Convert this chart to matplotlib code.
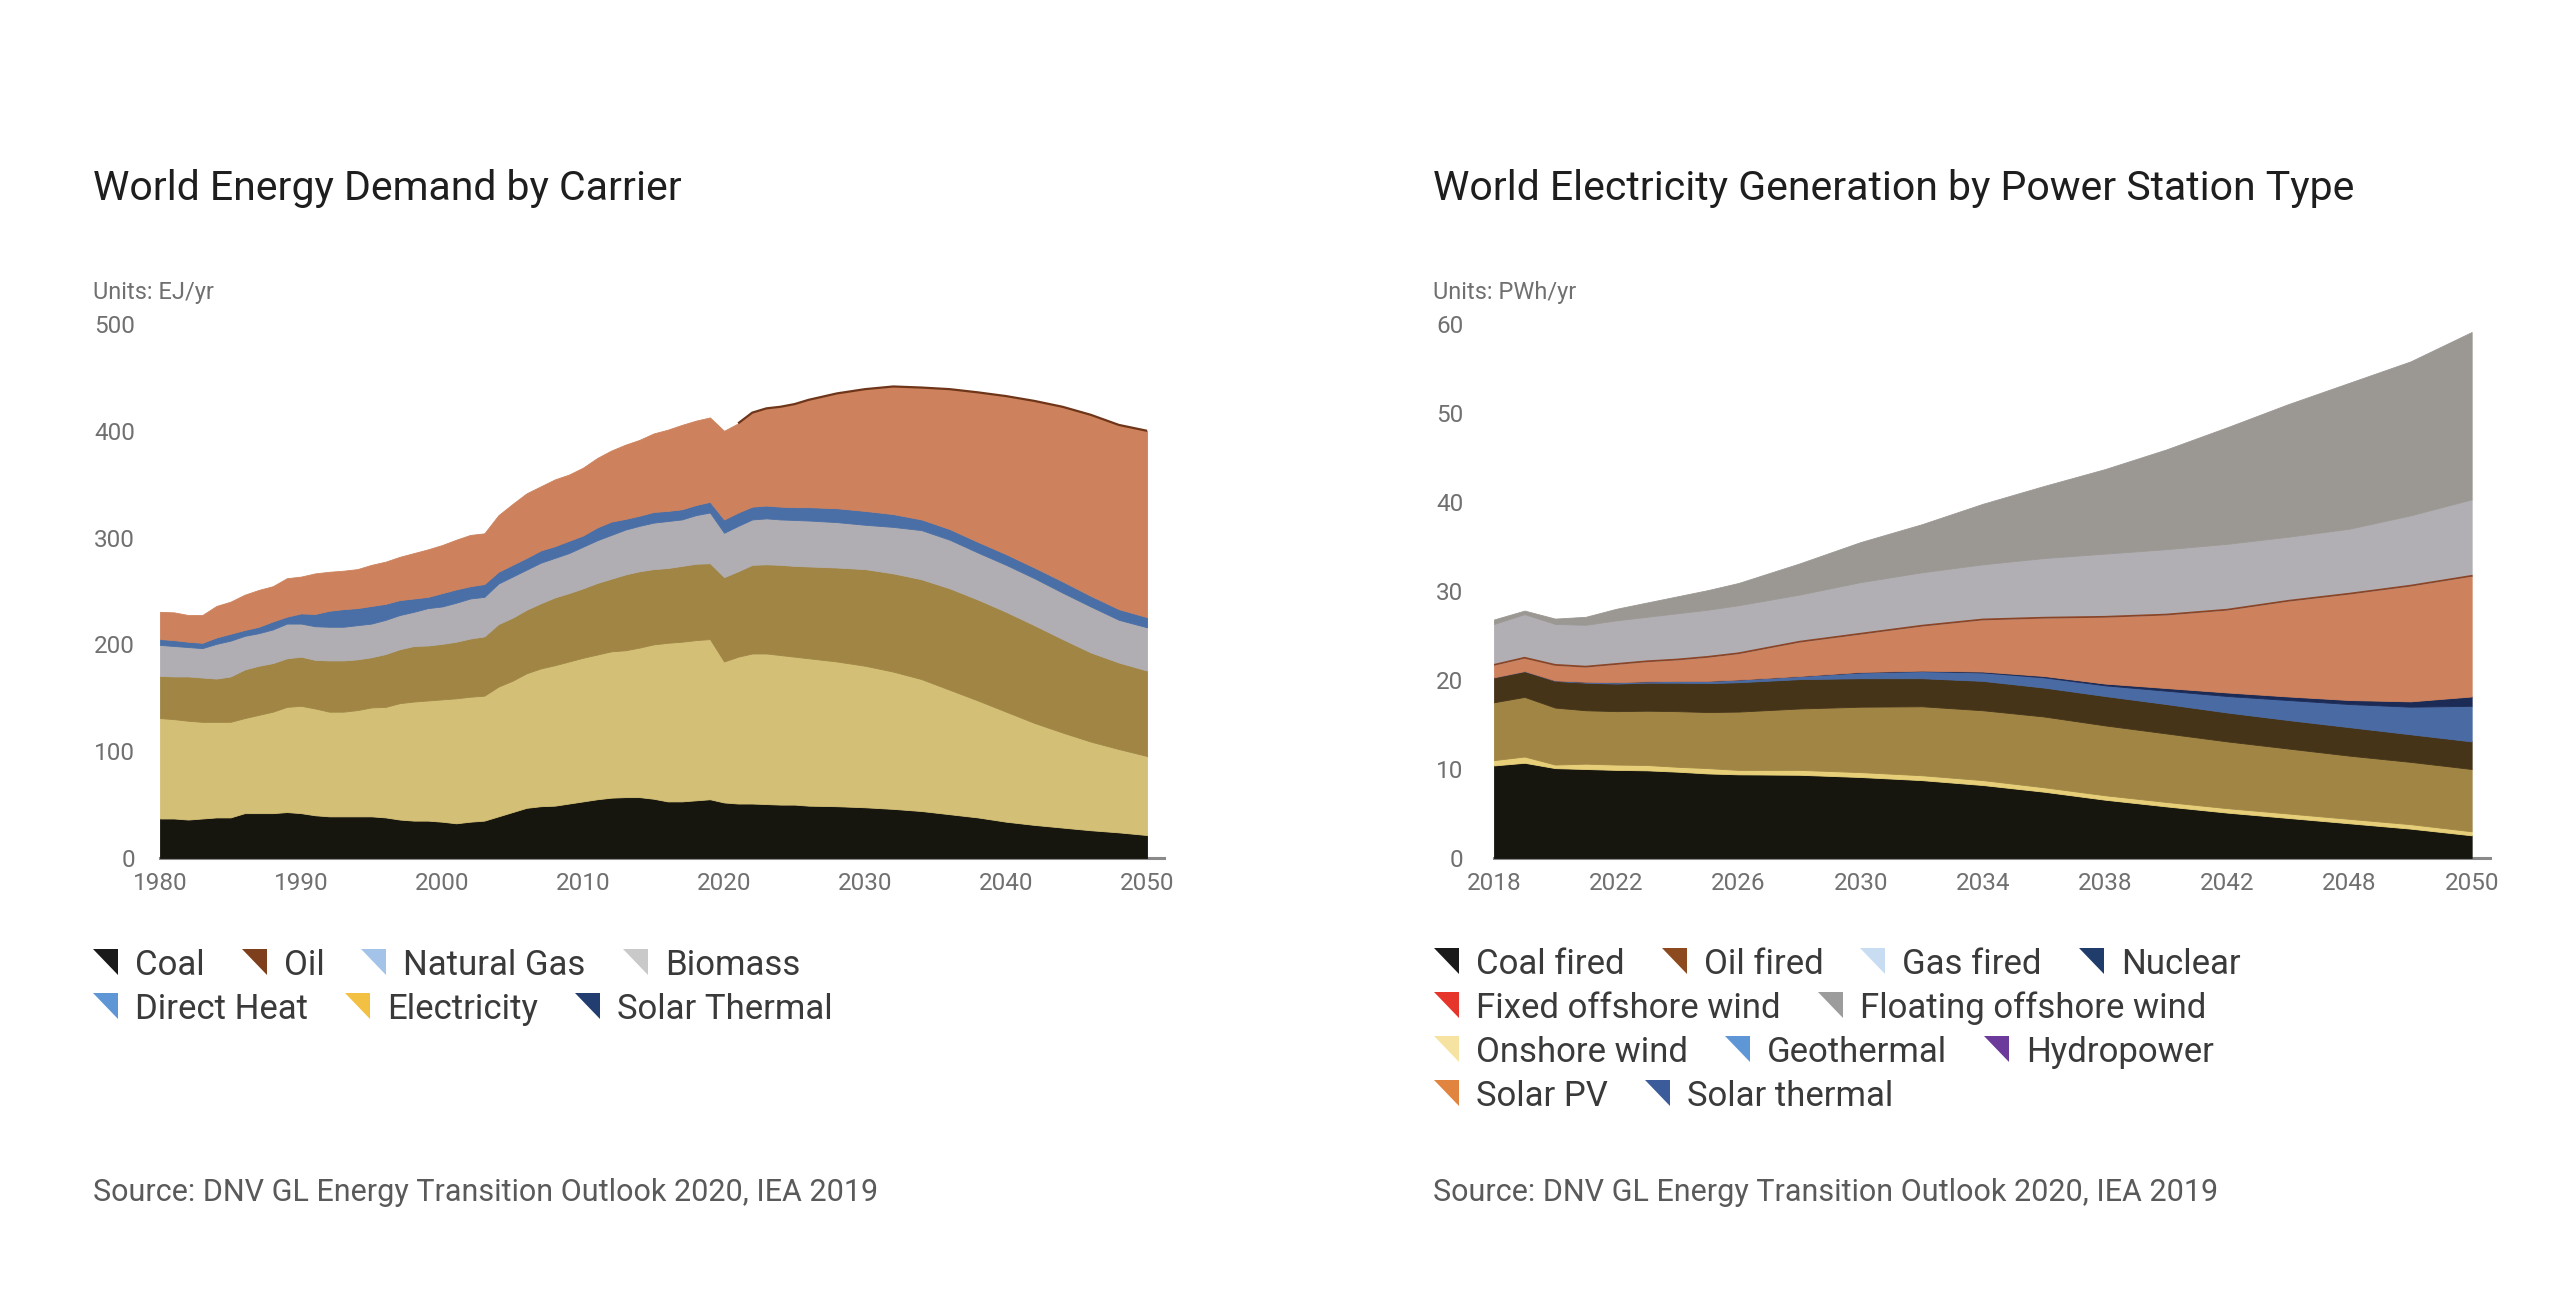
import numpy as np
import matplotlib.pyplot as plt
from matplotlib.patches import Polygon

plt.rcParams['font.family'] = ['Roboto', 'DejaVu Sans']

W, H, DPI = 2560, 1303, 100

# World energy demand by carrier, EJ/yr
# values are the upper edge of each stacked band
demand_years = list(range(1980, 2027)) + list(range(2028, 2051, 2))
coal_edge = [37, 37, 36, 37, 38, 38, 42, 42, 42, 43,
             42, 40, 39, 39, 39, 39, 38, 36, 35, 35,
             34, 32.5, 34, 35, 39, 43, 47, 48.5, 49, 51,
             53, 55, 56.5, 57, 57, 55.5, 53, 53, 54, 55,
             52, 51, 51, 50.5, 50, 50, 49,
             48.5, 47.5, 46, 44, 41, 38, 34, 31, 28.5, 26, 24, 21.5]
oil_edge = [131, 130, 128.5, 127.5, 127.5, 127.5, 131, 134, 137, 141.5,
            142.5, 140, 137, 137, 138.5, 141, 141.5, 145, 146.5, 147.5,
            148.5, 149.5, 151, 152, 160.5, 166, 173, 177.5, 180.5, 184,
            187.5, 190.5, 193.5, 194.5, 197, 200, 201.5, 202.5, 204, 205,
            184, 188.5, 191.5, 191.5, 190, 188.5, 187,
            184, 180, 174.5, 167.5, 157.5, 147.5, 137, 126.5, 117.5, 109, 102, 95.5]
gas_edge = [170.5, 170, 170, 169, 168, 170, 176.5, 180, 182.5, 187,
            188.5, 185.5, 185, 185, 186, 188, 191, 195.5, 198.5, 199,
            200.5, 202.5, 205.5, 207.5, 219, 225, 232.5, 238.5, 244, 248,
            252.5, 257.5, 261.5, 265.5, 268.5, 270.5, 271.5, 273.5, 275.5, 276,
            263, 268.5, 274.5, 275, 274.5, 273.5, 273,
            272, 270.5, 266.5, 261, 252.5, 242, 230.5, 218, 205, 192.5, 183, 175.5]
biomass_edge = [199.5, 198.5, 197.5, 196.5, 200.5, 203.5, 208, 210.5, 214, 219.5,
                219.5, 217, 216.5, 216.5, 218, 219.5, 223, 227.5, 230.5, 234,
                235.5, 239, 243, 244.5, 257, 263.5, 270, 276.5, 281, 285.5,
                291.5, 297.5, 302.5, 307.5, 311, 314, 315.5, 317, 321, 323.5,
                304.5, 311, 317, 318, 317, 316.5, 316,
                314.5, 312, 310, 307, 298, 286, 274.5, 262, 248.5, 235.5, 223, 216]
heat_edge = [205, 204, 202.5, 201.5, 206.5, 210, 213.5, 216.5, 221.5, 226,
             229, 228.5, 231.5, 233, 234, 236, 238, 241.5, 243, 244.5,
             248, 251.5, 254.5, 256.5, 268, 274.5, 281, 288, 292, 297,
             302, 309.5, 315, 317.5, 320.5, 324, 325, 326.5, 330.5, 333.5,
             317, 323.5, 329, 330, 329, 328.5, 328.5,
             327.5, 325, 322, 317, 308, 296, 284.5, 272, 259, 245.5, 233, 225.5]
electricity_edge = [230.5, 230, 227.5, 227.5, 236, 240, 246.5, 251, 254.5, 262,
                    263.5, 266.5, 268, 269, 270.5, 274.5, 277.5, 282, 285.5, 289,
                    293, 298, 302.5, 304, 321, 331.5, 341.5, 348, 354.5, 359,
                    365.5, 374.5, 381.5, 387, 391.5, 397.5, 401, 405.5, 409.5, 412.5,
                    400, 407, 417, 421, 422.5, 425, 429,
                    435, 439, 441.5, 440.5, 439, 436, 432.5, 428, 422.5, 415, 405.5, 400]
demand_colors = ['#16160f', '#d3bf75', '#a08545', '#b0aeb2', '#4a6ea6', '#cd825d']
demand_ticks = [1980, 1990, 2000, 2010, 2020, 2030, 2040, 2050]

# World electricity generation by power station type, PWh/yr (upper edges)
elec_years = [2018, 2019, 2020, 2021, 2022, 2023, 2024, 2025, 2026, 2028, 2030,
              2032, 2034, 2036, 2038, 2040, 2042, 2044, 2046, 2048, 2050]
coal_fired_edge = [10.4, 10.7, 10.1, 10.0, 9.9, 9.85, 9.7, 9.5, 9.4, 9.35, 9.1,
                   8.75, 8.2, 7.45, 6.55, 5.8, 5.1, 4.5, 3.9, 3.3, 2.55]
oil_fired_edge = [11.0, 11.4, 10.5, 10.6, 10.5, 10.45, 10.25, 10.1, 9.9, 9.9, 9.65,
                  9.3, 8.75, 7.95, 7.05, 6.3, 5.6, 5.0, 4.4, 3.8, 3.0]
gas_fired_edge = [17.5, 18.1, 16.9, 16.6, 16.5, 16.55, 16.5, 16.4, 16.45, 16.8, 17.0,
                  17.05, 16.6, 15.9, 14.9, 14.0, 13.1, 12.3, 11.5, 10.8, 10.0]
nuclear_edge = [20.3, 21.0, 19.9, 19.7, 19.6, 19.7, 19.7, 19.65, 19.75, 20.1, 20.2,
                20.2, 19.9, 19.15, 18.2, 17.3, 16.35, 15.5, 14.7, 13.9, 13.1]
fixed_offshore_edge = [20.3, 21.0, 19.95, 19.8, 19.75, 19.85, 19.9, 19.9, 20.05, 20.45, 20.85,
                       21.0, 20.85, 20.3, 19.4, 18.8, 18.2, 17.75, 17.3, 17.0, 17.1]
floating_offshore_edge = [20.3, 21.0, 19.95, 19.8, 19.75, 19.85, 19.9, 19.9, 20.05, 20.45, 20.9,
                          21.05, 20.95, 20.45, 19.6, 19.1, 18.6, 18.15, 17.75, 17.6, 18.15]
solar_pv_edge = [21.7, 22.5, 21.7, 21.5, 21.8, 22.1, 22.3, 22.6, 23.0, 24.3, 25.2,
                 26.1, 26.8, 27.0, 27.1, 27.35, 27.9, 28.9, 29.7, 30.6, 31.7]
hydropower_edge = [26.3, 27.4, 26.3, 26.2, 26.7, 27.1, 27.5, 27.9, 28.4, 29.6, 31.0,
                   32.1, 33.0, 33.7, 34.2, 34.7, 35.3, 36.1, 37.0, 38.5, 40.3]
onshore_wind_edge = [26.8, 27.8, 26.9, 27.1, 28.0, 28.7, 29.4, 30.1, 30.9, 33.1, 35.5,
                     37.5, 39.8, 41.8, 43.7, 45.9, 48.4, 51.0, 53.4, 55.8, 59.1]
elec_colors = ['#16160f', '#e6cf78', '#a08545', '#463418', '#4a6aa4',
               '#1c2b55', '#cd825d', '#b1afb3', '#9b9894']
elec_ticks = [2018, 2022, 2026, 2030, 2034, 2038, 2042, 2046, 2050]
elec_tick_labels = ['2018', '2022', '2026', '2030', '2034', '2038', '2042', '2048', '2050']

demand_legend = ['Coal', 'Oil', 'Natural Gas', 'Biomass', 'Direct Heat', 'Electricity', 'Solar Thermal']
demand_legend_colors = ['#1a1a1a', '#7e3f1c', '#a3c3e8', '#c9c9c9', '#5f97d6', '#f2c143', '#223d6f']
demand_legend_rows = [4, 3]
elec_legend = ['Coal fired', 'Oil fired', 'Gas fired', 'Nuclear', 'Fixed offshore wind',
               'Floating offshore wind', 'Onshore wind', 'Geothermal', 'Hydropower',
               'Solar PV', 'Solar thermal']
elec_legend_colors = ['#1a1a1a', '#8c4a1e', '#c8ddf1', '#1f3c6b', '#e6352b', '#9c9c9c',
                      '#f7e3a1', '#5f97d6', '#6b3a9b', '#e0843f', '#3b5b9b']
elec_legend_rows = [4, 2, 3, 2]

source = 'Source: DNV GL Energy Transition Outlook 2020, IEA 2019'

fig = plt.figure(figsize=(W / DPI, H / DPI), dpi=DPI)


def fx(x):
    return x / W


def fy(y):
    return 1 - y / H


def stacked_panel(left, right, years, edges, colors, ylim, yticks, xlim, xticks, xlabels, pad):
    ax = fig.add_axes([fx(left), fy(858), (right - left) / W, (858 - 324) / H])
    edges = np.vstack(edges)
    bands = np.diff(np.vstack([np.zeros(len(years)), edges]), axis=0)
    polys = ax.stackplot(years, bands, colors=colors, linewidth=0.6)
    for p, c in zip(polys, colors):
        p.set_edgecolor(c)
    ax.set_xlim(*xlim)
    ax.set_ylim(*ylim)
    ax.set_yticks(yticks)
    ax.set_xticks(xticks)
    ax.set_xticklabels(xlabels)
    for s in ['top', 'right', 'left']:
        ax.spines[s].set_visible(False)
    ax.spines['bottom'].set_color('#8a8a8a')
    ax.spines['bottom'].set_linewidth(2.2)
    ax.spines['bottom'].set_zorder(0.5)
    ax.tick_params(length=0, labelsize=17.5, labelcolor='#707070')
    ax.tick_params(axis='x', pad=10)
    ax.tick_params(axis='y', pad=pad)
    return ax


ax1 = stacked_panel(160, 1164, demand_years,
                    [coal_edge, oil_edge, gas_edge, biomass_edge, heat_edge, electricity_edge],
                    demand_colors, (0, 500), range(0, 501, 100), (1980, 2051.2),
                    demand_ticks, [str(t) for t in demand_ticks], 18)
# thin dark rim along the top of the projection
proj = [i for i, y in enumerate(demand_years) if y >= 2021]
ax1.plot([demand_years[i] for i in proj], [electricity_edge[i] for i in proj],
         color='#6e3519', lw=1.6, solid_capstyle='butt')

ax2 = stacked_panel(1494, 2490, elec_years,
                    [coal_fired_edge, oil_fired_edge, gas_fired_edge, nuclear_edge,
                     fixed_offshore_edge, floating_offshore_edge, solar_pv_edge,
                     hydropower_edge, onshore_wind_edge],
                    elec_colors, (0, 60), range(0, 61, 10), (2018, 2050.6),
                    elec_ticks, elec_tick_labels, 22)
ax2.plot(elec_years, solar_pv_edge, color='#8b4526', lw=1.3)

# titles, units, sources
for x0, title, unit in [(93, 'World Energy Demand by Carrier', 'Units: EJ/yr'),
                        (1433, 'World Electricity Generation by Power Station Type', 'Units: PWh/yr')]:
    fig.text(fx(x0), fy(200), title, fontsize=29.5, color='#1e1e1e', va='baseline')
    fig.text(fx(x0), fy(299), unit, fontsize=17, color='#707070', va='baseline')
    fig.text(fx(x0), fy(1201), source, fontsize=22, color='#5a5a5a', va='baseline')

renderer = fig.canvas.get_renderer()


def flow_legend(x0, baseline, labels, colors, rows, step=44):
    i = 0
    for r, n in enumerate(rows):
        x = x0
        yb = baseline + r * step
        for label, c in zip(labels[i:i + n], colors[i:i + n]):
            tri = Polygon([(fx(x), fy(yb - 26)), (fx(x + 25), fy(yb - 26)), (fx(x + 25), fy(yb))],
                          closed=True, transform=fig.transFigure, facecolor=c, edgecolor='none')
            fig.patches.append(tri)
            t = fig.text(fx(x + 42), fy(yb), label, fontsize=25, color='#3a3a3a', va='baseline')
            x = x + 42 + t.get_window_extent(renderer).width + 37
        i += n


flow_legend(93, 975, demand_legend, demand_legend_colors, demand_legend_rows)
flow_legend(1434, 974, elec_legend, elec_legend_colors, elec_legend_rows)

fig.savefig('out.png', dpi=DPI, facecolor='white')
